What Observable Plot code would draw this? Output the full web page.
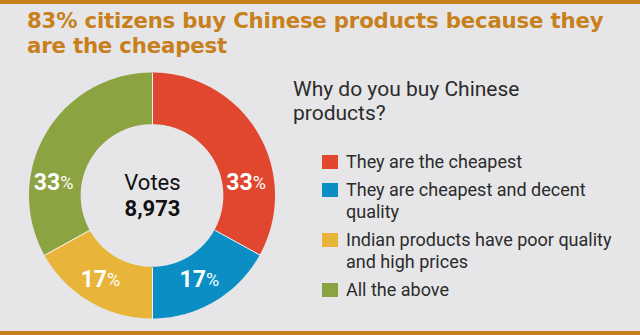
<!DOCTYPE html>
<html><head><meta charset="utf-8">
<script src="https://cdn.jsdelivr.net/npm/d3@7"></script>
<script src="https://cdn.jsdelivr.net/npm/@observablehq/plot@0.6"></script>
<style>
html,body{margin:0;padding:0;background:#e6e6e8;}
#wrap{position:relative;width:640px;height:335px;background:#e6e6e8;overflow:hidden;font-family:Roboto,"Liberation Sans",sans-serif;}
#topbar{position:absolute;left:0;top:0;width:640px;height:4px;background:#c8801c;}
#botbar{position:absolute;left:0;top:331px;width:640px;height:4px;background:#c8801c;}
#title{position:absolute;left:27px;top:8px;width:612px;font-family:"DejaVu Sans",sans-serif;font-weight:700;font-size:21.3px;line-height:25px;color:#c8801c;letter-spacing:-0.2px;}
#chart{position:absolute;left:0;top:0;}
#heading{position:absolute;left:293px;top:77px;font-size:21px;line-height:24px;color:#2b2b2b;}
#legend{position:absolute;left:322px;top:151px;}
.item{display:flex;align-items:flex-start;margin-bottom:6px;}
.sw{width:16px;height:14px;margin-top:4px;margin-right:8px;flex:none;}
.lab{font-size:18px;line-height:22px;color:#2b2b2b;white-space:pre-line;}
</style></head>
<body>
<div id="wrap">
  <div id="topbar"></div>
  <div id="title"></div>
  <div id="chart"></div>
  <div id="heading"></div>
  <div id="legend"></div>
  <div id="botbar"></div>
</div>
<script>
// ---- data ----
const titleText = "83% citizens buy Chinese products because they\nare the cheapest";
const question = "Why do you buy Chinese\nproducts?";
const categories = [
  "They are the cheapest",
  "They are cheapest and decent\nquality",
  "Indian products have poor quality\nand high prices",
  "All the above"
];
const shares = [33, 17, 17, 33];
const colors = ["#e0472e", "#0a8ec4", "#e8b53a", "#8ca342"];
const totalLabel = "Votes";
const totalVotes = 8973;

// ---- text ----
document.getElementById("title").innerHTML = titleText.replace("\n", "<br>");
document.getElementById("heading").innerHTML = question.replace("\n", "<br>");
const leg = d3.select("#legend");
categories.forEach((c, i) => {
  const it = leg.append("div").attr("class", "item");
  it.append("div").attr("class", "sw").style("background", colors[i]);
  it.append("div").attr("class", "lab").text(c);
});

// ---- donut geometry from data ----
const inner = 0.58, outer = 1;
const total = d3.sum(shares);
let acc = 0;
const slices = shares.map((v, i) => {
  const a0 = acc / total * 2 * Math.PI;
  acc += v;
  const a1 = acc / total * 2 * Math.PI;
  return {cat: categories[i], v, a0, a1};
});
const arcPts = [];
slices.forEach(s => {
  const n = 80;
  for (let k = 0; k <= n; k++) {
    const a = s.a0 + (s.a1 - s.a0) * k / n;
    arcPts.push({cat: s.cat, x1: inner * Math.sin(a), y1: inner * Math.cos(a), x2: outer * Math.sin(a), y2: outer * Math.cos(a)});
  }
});
const seps = slices.map(s => ({x1: inner * Math.sin(s.a0), y1: inner * Math.cos(s.a0), x2: outer * Math.sin(s.a0), y2: outer * Math.cos(s.a0)}));
const rm = (inner + outer) / 2;
const labels = slices.map(s => {
  let a = (s.a0 + s.a1) / 2;
  const span = s.a1 - s.a0;
  if (span > Math.PI / 2) {
    // place large-slice labels near the horizontal
    const h = [Math.PI / 2, 3 * Math.PI / 2].find(t => t > s.a0 && t < s.a1);
    if (h !== undefined) a = h + (h < Math.PI ? -1 : 1) * 0.14;
  }
  return {num: String(s.v), x: rm * Math.sin(a), y: rm * Math.cos(a)};
});

const chart = Plot.plot({
  width: 300, height: 335,
  marginLeft: 29, marginRight: 25, marginTop: 72.5, marginBottom: 16.5,
  x: {domain: [-1, 1], axis: null},
  y: {domain: [-1, 1], axis: null},
  color: {domain: categories, range: colors},
  style: {background: "transparent", overflow: "visible"},
  marks: [
    Plot.area(arcPts, {x1: "x1", y1: "y1", x2: "x2", y2: "y2", fill: "cat", z: "cat", curve: "linear"}),
    Plot.link(seps, {x1: "x1", y1: "y1", x2: "x2", y2: "y2", stroke: "#f2f2f2", strokeWidth: 1}),
    Plot.text(labels, {x: "x", y: "y", text: "num", textAnchor: "end", dx: 4, fill: "white", fontSize: 23, fontWeight: 700, fontFamily: "Roboto"}),
    Plot.text(labels, {x: "x", y: "y", text: () => "%", textAnchor: "start", dx: 4, dy: 1, fill: "white", fontSize: 18, fontWeight: 400, fontFamily: "Roboto"}),
    Plot.text([totalLabel], {x: () => 0, y: () => 0, text: d => d, dy: -13, fontSize: 22, fill: "#111", fontFamily: "Roboto"}),
    Plot.text([totalVotes], {x: () => 0, y: () => 0, text: d => d3.format(",")(d), dy: 13, fontSize: 22, fontWeight: 700, fill: "#111", fontFamily: "Roboto"})
  ]
});
document.getElementById("chart").appendChild(chart);
</script>
</body></html>
